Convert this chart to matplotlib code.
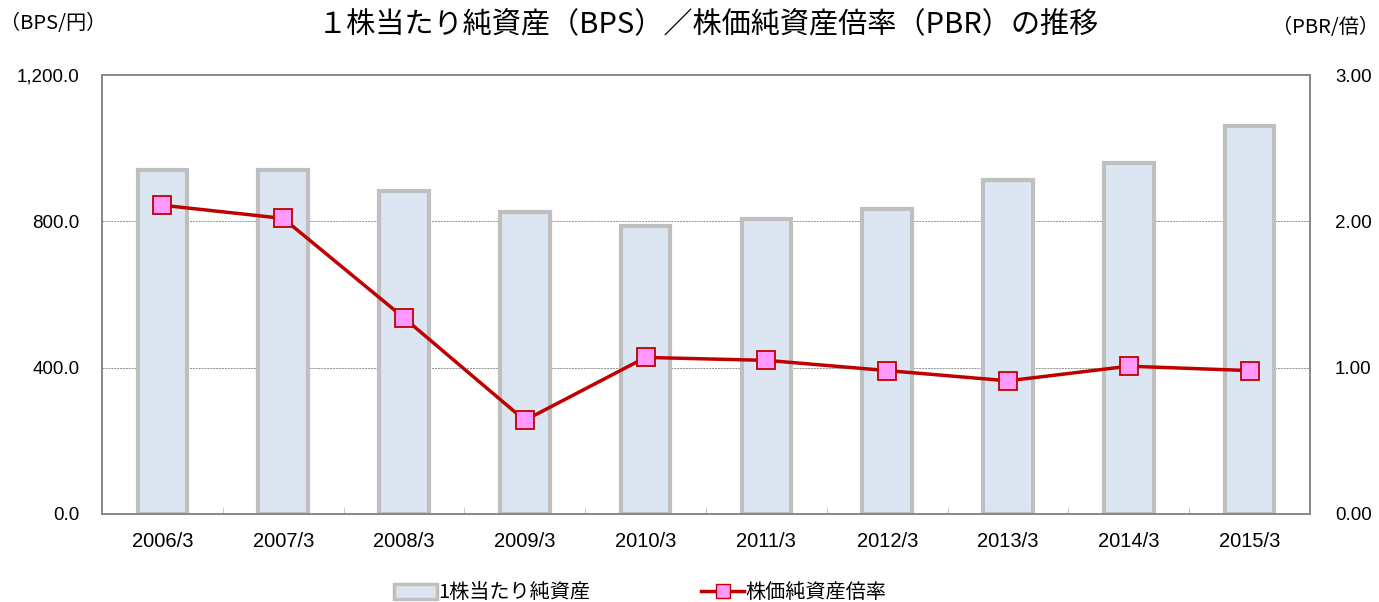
import matplotlib.pyplot as plt
import numpy as np
from matplotlib.lines import Line2D
from matplotlib.patches import Patch

plt.rcParams['font.family'] = ['Liberation Sans', 'Noto Sans CJK JP', 'DejaVu Sans']

# Data
years = ["2006/3", "2007/3", "2008/3", "2009/3", "2010/3",
         "2011/3", "2012/3", "2013/3", "2014/3", "2015/3"]
bps = [940, 940, 883, 826, 787, 806, 834, 913, 960, 1061]
pbr = [2.11, 2.02, 1.34, 0.64, 1.07, 1.05, 0.98, 0.91, 1.01, 0.98]

fig = plt.figure(figsize=(13.79, 6.02), dpi=100)
ax = fig.add_axes([102 / 1379, 1 - 514 / 602, 1208 / 1379, 439 / 602])
ax2 = ax.twinx()

x = np.arange(len(years))
ax.bar(x, bps, width=0.41, color='#dce6f2', edgecolor='#bfbfbf', linewidth=3, zorder=2)
ax.set_ylim(0, 1200)
ax.set_xlim(-0.5, len(years) - 0.5)
ax.set_yticks([0, 400, 800, 1200])
ax.set_yticklabels([f"{v:,.1f}" for v in [0, 400, 800, 1200]], fontsize=13.5)
ax.set_xticks(x)
ax.set_xticklabels(years, fontsize=14.5)
ax.tick_params(axis='x', length=0, pad=13)
ax.set_xticks(np.arange(0.5, len(years) - 0.5), minor=True)
ax.tick_params(axis='x', which='minor', direction='in', length=5, color='#bfbfbf')
ax.tick_params(axis='y', length=0, pad=16)
for v in [400, 800]:
    ax.axhline(v, color='#909090', linestyle=(0, (2, 1)), linewidth=0.7, zorder=1)
for s in ax.spines.values():
    s.set_color('#888888')
    s.set_linewidth(1.2)

ax2.plot(x, pbr, color='#c00000', linewidth=2.5, marker='s', markersize=12.5,
         markerfacecolor='#ff99ff', markeredgecolor='#c00000', markeredgewidth=1.3, zorder=3)
ax2.set_ylim(0, 3)
ax2.set_yticks([0, 1, 2, 3])
ax2.set_yticklabels([f"{v:.2f}" for v in [0, 1, 2, 3]], fontsize=13.5)
ax2.tick_params(axis='y', length=0, pad=18)
for s in ax2.spines.values():
    s.set_color('#888888')
    s.set_linewidth(1.2)

fig.text(0.514, 1 - 25 / 602, "１株当たり純資産（BPS）／株価純資産倍率（PBR）の推移",
         ha='center', va='center', fontsize=21, family=['Noto Sans CJK JP', 'DejaVu Sans'])
fig.text(0, 1 - 24 / 602, "（BPS/円）", ha='left', va='center', fontsize=14.5,
         family=['Noto Sans CJK JP', 'DejaVu Sans'])
fig.text(1.0, 1 - 27 / 602, "（PBR/倍）", ha='right', va='center', fontsize=14.5,
         family=['Noto Sans CJK JP', 'DejaVu Sans'])

handles = [Patch(facecolor='#dce6f2', edgecolor='#bfbfbf', linewidth=2.5),
           Line2D([0], [0], color='#c00000', linewidth=2.5, marker='s', markersize=10,
                  markerfacecolor='#ff99ff', markeredgecolor='#c00000')]
fig.legend(handles, ["1株当たり純資産", "株価純資産倍率"], loc='center',
           bbox_to_anchor=(0.4645, 1 - 593 / 602), ncol=2, frameon=False,
           columnspacing=5.5, handlelength=2.1, handletextpad=0.1,
           prop={'family': ['Noto Sans CJK JP', 'DejaVu Sans'], 'size': 14.5})

fig.savefig("out.png", dpi=100)
